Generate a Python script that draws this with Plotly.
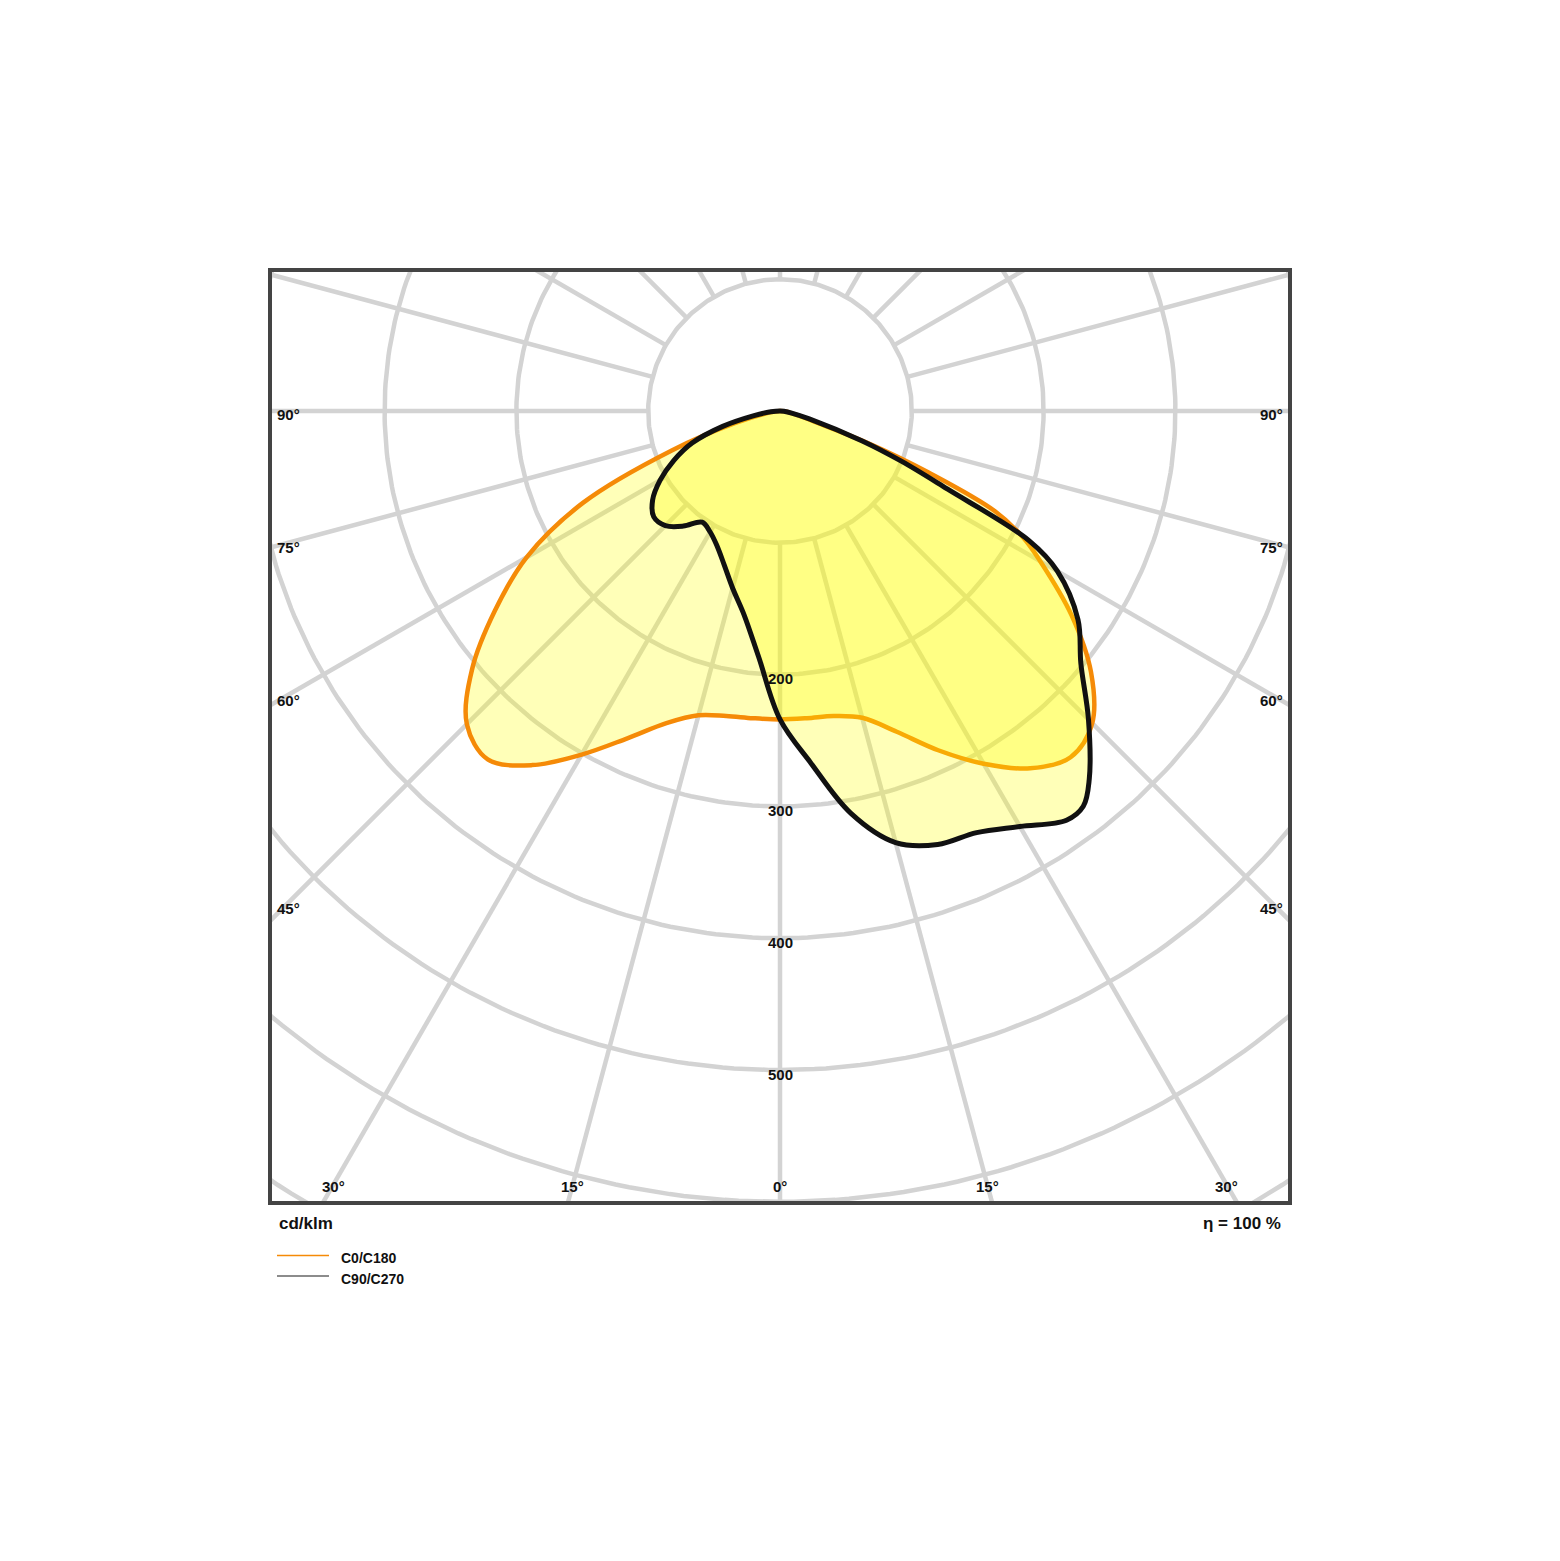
import numpy as np
import plotly.graph_objects as go

# luminous intensity distribution, cd/klm
# gamma measured from straight down (0 deg) towards the horizontal (90 deg)
c0_gamma = [0, 5, 10, 15, 20, 25, 30, 35, 40, 45, 50, 55, 60, 62.5, 65, 67.5, 70, 72.5, 75, 80, 85, 90]
c0_cd = [234, 234, 235, 241, 259, 284, 309, 331, 343, 335, 308, 270, 228, 208, 180, 122, 70, 30, 18, 8, 3, 0]
c180_gamma = [0, 5, 10, 15, 20, 25, 30, 35, 40, 45, 50, 55, 60, 65, 70, 75, 80, 85, 90]
c180_cd = [234, 234, 235, 239, 252, 274, 301, 328, 345, 336, 305, 264, 222, 165, 87, 35, 12, 4, 0]

c90_gamma = [0, 5, 10, 15, 20, 25, 30, 35, 37.5, 40, 45, 50, 55, 60, 62.5, 65, 67.5, 70, 75, 80, 85, 90]
c90_cd = [234, 268, 310, 339, 350, 353, 364, 379, 378, 365, 331, 298, 276, 243, 213, 140, 100, 66, 23, 9, 3, 0]
c270_gamma = [0, 5, 10, 15, 20, 25, 30, 35, 40, 45, 50, 55, 60, 65, 70, 75, 80, 85, 90]
c270_cd = [234, 187, 157, 139, 124, 113, 106, 103, 114, 123, 125, 118, 105, 89, 71, 45, 20, 7, 0]

ring_values = [100, 200, 300, 400, 500, 600, 700]
ring_labels = [200, 300, 400, 500]
side_angles = [90, 75, 60, 45]
bottom_angles = [30, 15, 0]

series_names = ["C0/C180", "C90/C270"]
efficiency = "η = 100 %"
unit_label = "cd/klm"

ORANGE = "#f58a07"
BLACK = "#111111"
GRID = "#d3d3d3"
FILL = "rgba(255,255,0,0.28)"
FONT = "Liberation Sans, Arial, sans-serif"
TXT = "#111111"

# page geometry (pixels) of the framed diagram
W, H = 1560, 1561
L, R, T, B = 270, 1290, 270, 1203
CX, CY = 780, 411
K = 1.318  # pixels per cd/klm
OFF = 8    # the page body margin shifts the figure by this much

x_range = [-(CX - L) / K, (R - CX) / K]
y_range = [-(B - CY) / K, (CY - T) / K]


def px(x):
    return (x - L) / (R - L)


def py(y):
    return (B - y) / (B - T)


def closed_curve(left_g, left_r, right_g, right_r):
    lg = np.radians(np.array(left_g[::-1], dtype=float))
    lr = np.array(left_r[::-1], dtype=float)
    rg = np.radians(np.array(right_g[1:], dtype=float))
    rr = np.array(right_r[1:], dtype=float)
    x = np.concatenate([-lr * np.sin(lg), rr * np.sin(rg)])
    y = np.concatenate([-lr * np.cos(lg), -rr * np.cos(rg)])
    return x, y


fig = go.Figure()

# polar grid: rings and radial spokes every 15 deg, spokes start at the first ring
gx, gy = [], []
t = np.radians(np.arange(0, 361, 1))
for r in ring_values:
    gx += list(r * np.sin(t)) + [None]
    gy += list(r * np.cos(t)) + [None]
for a in np.radians(np.arange(0, 360, 15)):
    gx += [100 * np.sin(a), 900 * np.sin(a), None]
    gy += [100 * np.cos(a), 900 * np.cos(a), None]
fig.add_trace(go.Scatter(x=gx, y=gy, mode="lines", line=dict(color=GRID, width=4.5),
                         hoverinfo="skip", showlegend=False))

ox, oy = closed_curve(c180_gamma, c180_cd, c0_gamma, c0_cd)
fig.add_trace(go.Scatter(x=ox, y=oy, mode="lines", fill="toself", fillcolor=FILL,
                         line=dict(color=ORANGE, width=4.5, shape="spline", smoothing=1.0),
                         name=series_names[0], showlegend=False))

bx, by = closed_curve(c270_gamma, c270_cd, c90_gamma, c90_cd)
fig.add_trace(go.Scatter(x=bx, y=by, mode="lines", fill="toself", fillcolor=FILL,
                         line=dict(color=BLACK, width=5, shape="spline", smoothing=1.0),
                         name=series_names[1], showlegend=False))

annotations = []
label_font = dict(family=FONT, size=15, color=TXT, weight="bold")

for r in ring_labels:
    annotations.append(dict(x=0, y=-r, xref="x", yref="y", text=str(r), showarrow=False,
                            font=label_font, yshift=-4))

side_shift = [-3, 0, 5, 13]
for a, s in zip(side_angles, side_shift):
    yy = 0 if a == 90 else -x_range[1] / np.tan(np.radians(a))
    annotations.append(dict(x=x_range[0], y=yy, xref="x", yref="y", text=f"{a}°",
                            showarrow=False, font=label_font, xanchor="left", xshift=5, yshift=s))
    annotations.append(dict(x=x_range[1], y=yy, xref="x", yref="y", text=f"{a}°",
                            showarrow=False, font=label_font, xanchor="right", xshift=-5, yshift=s))

bottom_shift = [11, 5, 0]
for a, s in zip(bottom_angles, bottom_shift):
    xx = -y_range[0] * np.tan(np.radians(a))
    annotations.append(dict(x=-xx, y=y_range[0], xref="x", yref="y", text=f"{a}°",
                            showarrow=False, font=label_font, xshift=s, yshift=17))
    if a != 0:
        annotations.append(dict(x=xx, y=y_range[0], xref="x", yref="y", text=f"{a}°",
                                showarrow=False, font=label_font, xshift=-s, yshift=17))

annotations.append(dict(x=px(277), y=py(1223), xref="paper", yref="paper", text=unit_label,
                        showarrow=False, xanchor="left", yanchor="middle",
                        font=dict(family=FONT, size=17, color=TXT, weight="bold")))
annotations.append(dict(x=px(1283), y=py(1223), xref="paper", yref="paper", text=efficiency,
                        showarrow=False, xanchor="right", yanchor="middle",
                        font=dict(family=FONT, size=17, color=TXT, weight="bold")))
annotations.append(dict(x=px(339), y=py(1258), xref="paper", yref="paper", text=series_names[0],
                        showarrow=False, xanchor="left", yanchor="middle",
                        font=dict(family=FONT, size=14, color=TXT, weight="bold")))
annotations.append(dict(x=px(339), y=py(1279), xref="paper", yref="paper", text=series_names[1],
                        showarrow=False, xanchor="left", yanchor="middle",
                        font=dict(family=FONT, size=14, color=TXT, weight="bold")))

shapes = [
    dict(type="rect", xref="paper", yref="paper", x0=0, x1=1, y0=0, y1=1,
         line=dict(color="#444444", width=4)),
    dict(type="line", xref="paper", yref="paper", x0=px(277), x1=px(329), y0=py(1255.5), y1=py(1255.5),
         line=dict(color=ORANGE, width=1.5)),
    dict(type="line", xref="paper", yref="paper", x0=px(277), x1=px(329), y0=py(1276), y1=py(1276),
         line=dict(color="#666666", width=1.5)),
]

fig.update_layout(
    width=W, height=H,
    margin=dict(l=L - OFF, r=W - R + OFF, t=T - OFF, b=H - B + OFF, pad=0),
    paper_bgcolor="white", plot_bgcolor="white",
    xaxis=dict(range=x_range, visible=False, fixedrange=True),
    yaxis=dict(range=y_range, visible=False, fixedrange=True),
    annotations=annotations, shapes=shapes,
    showlegend=False,
)

fig.write_html("out.html")
